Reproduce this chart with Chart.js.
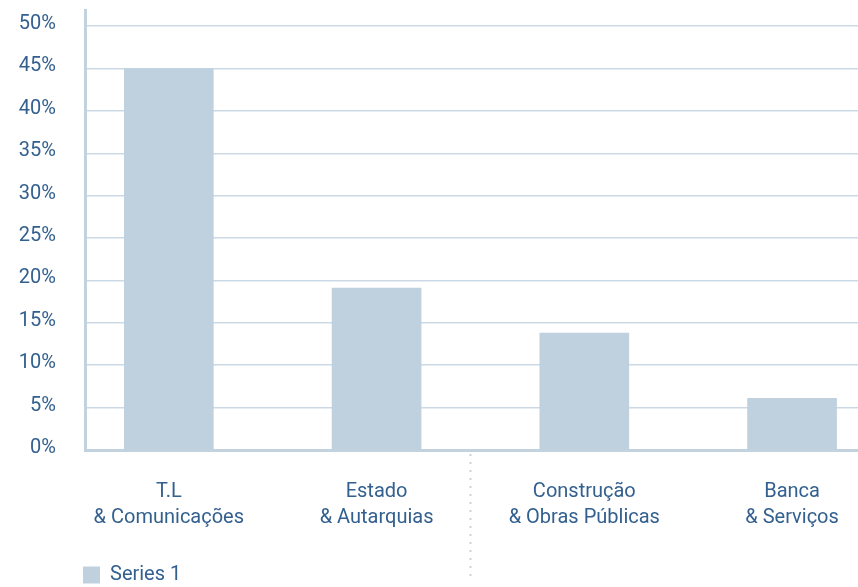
<!DOCTYPE html>
<html><head><meta charset="utf-8">
<script src="https://cdn.jsdelivr.net/npm/chart.js@4"></script>
<style>html,body{margin:0;padding:0;background:#fff;overflow:hidden}#wrap{width:858px;height:587px;position:relative}</style>
</head><body><div id="wrap"><canvas id="c"></canvas></div>
<script>
const categories = [["T.L", "& Comunicações"], ["Estado", "& Autarquias"], ["Construção", "& Obras Públicas"], ["Banca", "& Serviços"]];
const seriesName = "Series 1";
const seriesValues = [45.0, 19.1, 13.8, 6.1];
const yTickValues = [0, 5, 10, 15, 20, 25, 30, 35, 40, 45, 50];
const dividerAt = 1.45;

const textColor = '#33608f';
const barColor = '#bfd0de';
const gridColor = '#cbd9e6';
const axisColor = '#c3d2df';
const fontFamily = 'Roboto, "DejaVu Sans", sans-serif';

const dividerPlugin = {
  id: 'divider',
  afterLayout(chart) {
    if (chart.legend) { chart.legend.left += 73; }
  },
  afterDraw(chart) {
    const ctx = chart.ctx;
    const x = Math.round(chart.scales.x.getPixelForValue(dividerAt)) + 0.5;
    ctx.save();
    ctx.strokeStyle = '#c6d4e1';
    ctx.lineWidth = 2;
    ctx.setLineDash([2, 6]);
    ctx.beginPath();
    ctx.moveTo(x, chart.chartArea.bottom + 4);
    ctx.lineTo(x, 582);
    ctx.stroke();
    ctx.restore();
  }
};

new Chart(document.getElementById('c'), {
  type: 'bar',
  data: {
    datasets: [{
      label: seriesName,
      data: seriesValues.map((v, i) => ({ x: i, y: v })),
      backgroundColor: barColor,
      borderWidth: 0,
      barThickness: 89
    }]
  },
  options: {
    responsive: true,
    maintainAspectRatio: false,
    animation: false,
    devicePixelRatio: 1,
    layout: { padding: { left: 0, top: 10, right: 0, bottom: -8 } },
    plugins: {
      tooltip: { enabled: false },
      legend: {
        position: 'bottom',
        align: 'start',
        labels: {
          boxWidth: 17, boxHeight: 17, padding: 10,
          color: textColor,
          font: { family: fontFamily, size: 20 }
        }
      }
    },
    scales: {
      x: {
        type: 'linear',
        min: -0.4034,
        max: 3.3174,
        offset: false,
        afterBuildTicks: s => { s.ticks = categories.map((c, i) => ({ value: i })); },
        afterFit: s => { s.height = 105; s.paddingLeft = 0; s.paddingRight = 0; },
        ticks: {
          autoSkip: false, maxRotation: 0, minRotation: 0,
          padding: 29,
          color: textColor,
          font: { family: fontFamily, size: 20, lineHeight: 1.3 },
          callback: (v, i) => categories[i]
        },
        grid: { display: false, drawTicks: false },
        border: { display: true, color: axisColor, width: 3 }
      },
      y: {
        min: 0,
        max: 51.9,
        afterBuildTicks: s => { s.ticks = yTickValues.map(v => ({ value: v })); },
        afterFit: s => { s.width = 85; s.paddingTop = 0; s.paddingBottom = 0; },
        ticks: {
          padding: 29,
          labelOffset: -2,
          color: textColor,
          font: { family: fontFamily, size: 20 },
          callback: v => v + '%'
        },
        grid: { color: gridColor, lineWidth: 1.5, drawTicks: false },
        border: { display: true, color: axisColor, width: 3 }
      }
    }
  },
  plugins: [dividerPlugin]
});
</script></body></html>
